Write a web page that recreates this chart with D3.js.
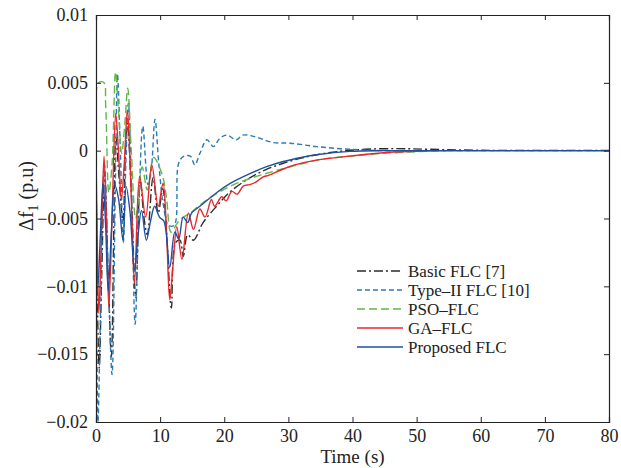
<!DOCTYPE html>
<html><head><meta charset="utf-8">
<script src="https://cdn.jsdelivr.net/npm/d3@7"></script>
<style>body{margin:0;background:#fff}svg{display:block}</style>
</head><body><div id="chart"></div>
<script>
// ---- data ----
const seriesNames = ["Basic FLC [7]", "Type\u2013II FLC [10]", "PSO\u2013FLC", "GA\u2013FLC", "Proposed FLC"];
const xTicks = [0, 10, 20, 30, 40, 50, 60, 70, 80];
const yTicks = [-0.02, -0.015, -0.01, -0.005, 0, 0.005, 0.01];
const yTickLabels = ["\u22120.02", "\u22120.015", "\u22120.01", "\u22120.005", "0", "0.005", "0.01"];

// values in units of 1e-3 p.u.
const basicT = [0,0.25,0.5,0.9,1.35,1.9,2.4,2.8,3.1,3.6,4.2,4.6,4.9,5.5,6.2,6.9,7.5,8.0,8.9,9.7,10.4,11.0,11.75,12.4,13.1,13.6,14.3,15.2,16.7,18.8,21,24,26.5,29.2,32,34.4,38,42,47,52,60,70,80];
const basicV = [0,-12,-16,-9,-1.6,-9,-15.2,-5,1.0,-2,-5.2,0,2.0,-3,-10.8,-2.2,-5,-6.2,-2.0,-4.6,-2.8,-6,-11.6,-6.8,-6.6,-7.8,-6.2,-6.6,-5.3,-4.1,-3.0,-2.0,-1.4,-0.93,-0.55,-0.3,-0.05,0.1,0.15,0.1,0.03,0.02,0.02];

const type2T = [0,0.3,0.7,1.3,1.9,2.5,3.0,3.35,3.8,4.25,4.65,5.05,5.6,6.1,6.7,7.3,8.1,8.6,9.2,9.8,10.5,11.3,12.2,12.85,13.6,14.7,15.4,16.2,17.3,18.3,19.3,20.4,21.9,22.9,25,27.6,30.3,34.4,39.6,45,50,60,70,80];
const type2V = [0,-20,-12,-1,-9,-16.5,-3,5.6,0,-6.8,-1,3.5,-4,-12.8,-4,1.8,-2.5,-1.5,2.3,-1,-4,-5.5,-5.5,-1,-0.44,-0.4,-1.05,-0.2,0.8,0.3,0.9,1.15,0.8,1.15,1.0,0.6,0.55,0.3,0.1,0,0,0,0,0];

const psoT = [0,0.12,0.4,1.25,1.5,2.0,2.5,3.05,3.5,4.0,4.5,4.95,5.5,6.2,7.2,8.0,9.0,10.4,11.0,11.7,12.6,13.3,14.7,16.2,18,19.8,22,25,27.5,30.3,34.4,39.6,44.8,50,55,60,70,80];
const psoV = [0,-9,5,5,3.5,-3.1,-1,5.8,3,-0.2,2,4.6,0,-5,-1.2,-2.9,-0.5,-1.9,-3.5,-6,-5.4,-5.0,-4.6,-4.0,-3.4,-2.9,-2.4,-1.9,-1.55,-1.2,-0.7,-0.4,-0.2,-0.08,0,0,0,0];

const gaT = [0,0.2,0.45,0.8,1.25,1.6,2.0,2.5,3.07,3.5,3.95,4.4,4.9,5.4,6.0,6.8,7.75,8.7,9.7,10.45,11.0,11.5,12.0,12.6,13.4,14.4,15.2,16.2,17.0,18.0,18.5,19.6,20.3,21.2,22.0,23.0,24,25,26,27,29.2,31,34.4,39.6,44.8,50,55,60,70,80];
const gaV = [0,-7,-12,-7,-0.4,-5,-11.5,-5,2.75,0,-3.6,-1,3.0,-2,-9.8,-1.9,-4.9,-1.05,-4.1,-2.4,-6,-11.0,-8.5,-5.6,-8.0,-4.6,-5.8,-4.3,-4.9,-3.6,-4.1,-3.4,-3.7,-3.0,-3.2,-2.6,-2.5,-2.3,-1.95,-1.8,-1.35,-1.05,-0.7,-0.4,-0.15,-0.05,0,0,0,0];

const propT = [0,0.3,0.7,1.1,1.5,1.9,2.4,2.9,3.5,4.2,4.7,5.3,6.0,6.5,7.1,7.85,8.5,9.15,9.9,10.6,11.5,12.3,12.9,13.6,14.3,14.9,16.2,18.8,21,24,26.5,29.2,32,34.4,39.6,45,50,60,70,80];
const propV = [0,-10,-6,-2.3,-5.5,-10.3,-6,-2.5,-3.5,-6.6,-2.65,-4.5,-8.8,-6.5,-4.4,-6.6,-5.2,-4.1,-4.9,-5.2,-8.6,-6.0,-6.5,-4.9,-5.3,-4.6,-4.1,-3.1,-2.4,-1.7,-1.2,-0.8,-0.5,-0.3,-0.05,0,0,0,0,0];

const colors = ["#2b2b2b", "#2a7bb8", "#5fb847", "#e8262b", "#1f4f9f"];
const dashes = ["9,3,2,3", "5,3", "8,4", null, null];

// ---- layout ----
const W = 621, H = 468;
const m = {left: 96, right: 12, top: 15, bottom: 46};
const svg = d3.select("#chart").append("svg").attr("width", W).attr("height", H);
const x = d3.scaleLinear().domain([0, 80]).range([m.left, W - m.right]);
const y = d3.scaleLinear().domain([-0.02, 0.01]).range([H - m.bottom, m.top]);

const font = "'Liberation Serif','DejaVu Serif',serif";

svg.append("clipPath").attr("id", "clip").append("rect")
  .attr("x", m.left).attr("y", m.top).attr("width", W - m.left - m.right).attr("height", H - m.top - m.bottom);

const series = [
  [basicT, basicV], [type2T, type2V], [psoT, psoV], [gaT, gaV], [propT, propV]
].map(([t, v], i) => ({name: seriesNames[i], pts: t.map((tt, j) => [tt, v[j] / 1000])}));

const line = d3.line().x(d => x(d[0])).y(d => y(d[1])).curve(d3.curveCatmullRom.alpha(0.5));
const g = svg.append("g").attr("clip-path", "url(#clip)");
series.forEach((s, i) => {
  g.append("path").attr("d", line(s.pts)).attr("fill", "none")
    .attr("stroke", colors[i]).attr("stroke-width", 1.4)
    .attr("stroke-dasharray", dashes[i]);
});

// axes (box with inward ticks)
const tl = 5;
const axB = svg.append("g").attr("transform", `translate(0,${H - m.bottom})`)
  .call(d3.axisBottom(x).tickValues(xTicks).tickSize(-tl).tickPadding(7).tickFormat(d3.format("d")));
const axT = svg.append("g").attr("transform", `translate(0,${m.top})`)
  .call(d3.axisTop(x).tickValues(xTicks).tickSize(-tl).tickFormat(""));
const axL = svg.append("g").attr("transform", `translate(${m.left},0)`)
  .call(d3.axisLeft(y).tickValues(yTicks).tickSize(-tl).tickPadding(8).tickFormat((d, i) => yTickLabels[i]));
const axR = svg.append("g").attr("transform", `translate(${W - m.right},0)`)
  .call(d3.axisRight(y).tickValues(yTicks).tickSize(-tl).tickFormat(""));
[axB, axT, axL, axR].forEach(a => {
  a.selectAll("path").attr("stroke", "#222").attr("stroke-width", 1.2);
  a.selectAll("line").attr("stroke", "#222").attr("stroke-width", 1);
  a.selectAll("text").attr("fill", "#222").style("font-family", font).style("font-size", "18px");
});

// axis titles
svg.append("text").attr("x", (m.left + W - m.right) / 2).attr("y", 463)
  .attr("text-anchor", "middle").style("font-family", font).style("font-size", "19px").attr("fill", "#222")
  .text("Time (s)");
const yl = svg.append("text").attr("transform", "translate(33,196) rotate(-90)")
  .attr("text-anchor", "middle").style("font-family", font).style("font-size", "20px").attr("fill", "#222");
yl.append("tspan").text("\u0394f");
yl.append("tspan").attr("dy", 5).style("font-size", "14px").text("1");
yl.append("tspan").attr("dy", -5).text(" (p.u)");

// legend
const lg = svg.append("g");
series.forEach((s, i) => {
  const yy = 271 + i * 19;
  lg.append("line").attr("x1", 357).attr("x2", 403).attr("y1", yy).attr("y2", yy)
    .attr("stroke", colors[i]).attr("stroke-width", 1.4).attr("stroke-dasharray", dashes[i]);
  lg.append("text").attr("x", 408).attr("y", yy + 5.5).style("font-family", font).style("font-size", "17px")
    .attr("fill", "#222").text(s.name);
});
</script></body></html>
